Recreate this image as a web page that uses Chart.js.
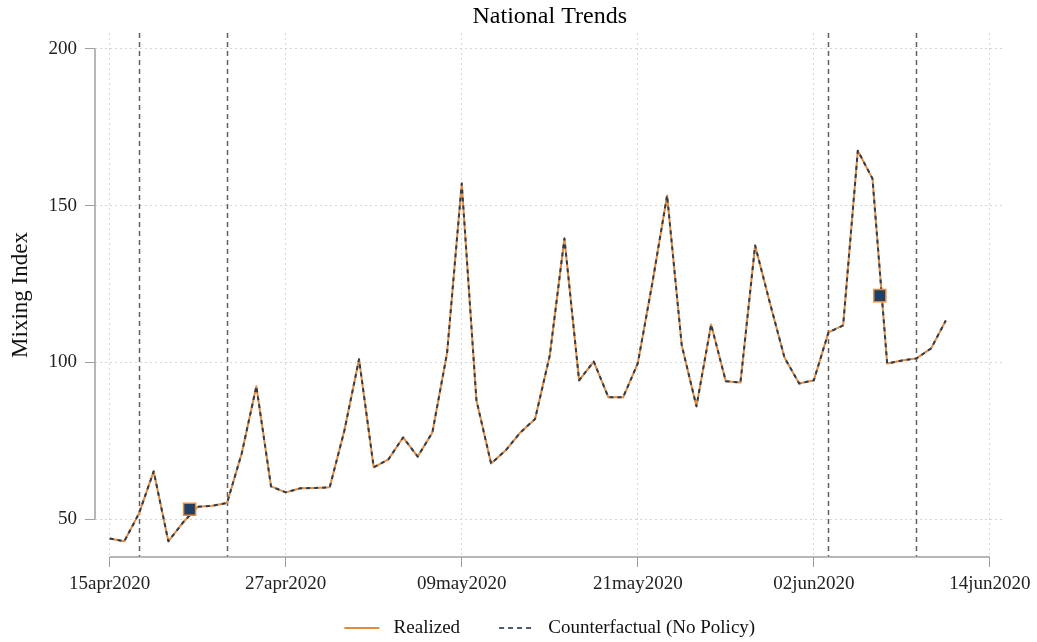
<!DOCTYPE html>
<html lang="en">
<head>
<meta charset="utf-8"/>
<title>National Trends</title>
<script src="https://cdn.jsdelivr.net/npm/chart.js"></script>
<style>
body { margin: 0; background: #fff; }
#wrap { width: 1037px; height: 642px; }
</style>
</head>
<body>
<div id="wrap"><canvas id="trend" width="1037" height="642"></canvas></div>
<script>
// days since 15apr2020
const days = [0, 1, 2, 3, 4, 5, 6, 7, 8, 9, 10, 11, 12, 13, 14, 15, 16, 17, 18, 19,
  20, 21, 22, 23, 24, 25, 26, 27, 28, 29, 30, 31, 32, 33, 34, 35, 36, 37, 38, 39,
  40, 41, 42, 43, 44, 45, 46, 47, 48, 49, 50, 51, 52, 53, 54, 55, 56, 57];
const realized = [43.9, 43.0, 51.9, 65.3, 43.0, 49.0, 54.0, 54.3, 55.2, 71.0,
  92.4, 60.5, 58.6, 59.9, 60.0, 60.2, 78.3, 101.0, 66.6, 69.1,
  76.1, 70.0, 77.7, 103.0, 157.0, 88.0, 67.8, 72.0, 77.7, 82.0,
  102.2, 139.5, 94.3, 100.3, 88.9, 88.9, 99.7, 125.5, 153.2, 105.4,
  86.0, 112.1, 94.0, 93.6, 137.3, 119.1, 101.6, 93.3, 94.3, 109.6,
  111.8, 167.5, 158.6, 99.7, 100.6, 101.3, 104.5, 113.4];
const counterfactual = [43.9, 43.0, 51.9, 65.3, 43.0, 49.0, 54.0, 54.3, 55.2, 71.0,
  92.4, 60.5, 58.6, 59.9, 60.0, 60.2, 78.3, 101.0, 66.6, 69.1,
  76.1, 70.0, 77.7, 103.0, 157.0, 88.0, 67.8, 72.0, 77.7, 82.0,
  102.2, 139.5, 94.3, 100.3, 88.9, 88.9, 99.7, 125.5, 153.2, 105.4,
  86.0, 112.1, 94.0, 93.6, 137.3, 119.1, 101.6, 93.3, 94.3, 109.6,
  111.8, 167.5, 158.6, 99.7, 100.6, 101.3, 104.5, 113.4];
const markerDays = [5.45, 52.5];
const markerValues = [53.2, 121.3];
const policyDays = [2, 8, 49, 55];
const tickDays = [0, 12, 24, 36, 48, 60];
const tickLabels = ['15apr2020', '27apr2020', '09may2020', '21may2020', '02jun2020', '14jun2020'];
const yTicks = [50, 100, 150, 200];

const serif = "'Liberation Serif', 'Times New Roman', serif";
const orange = '#e38b3f';
const navy = '#2b3d52';

const overlay = {
  id: 'overlay',
  beforeDatasetsDraw(chart) {
    const { ctx, chartArea: a, scales: { x, y } } = chart;
    ctx.save();
    // policy dates
    ctx.strokeStyle = '#5f5f5f';
    ctx.lineWidth = 1.5;
    ctx.setLineDash([5, 4]);
    policyDays.forEach(d => {
      const px = Math.round(x.getPixelForValue(d)) + 0.5;
      ctx.beginPath();
      ctx.moveTo(px, a.top);
      ctx.lineTo(px, a.bottom);
      ctx.stroke();
    });
    // axis lines only over the tick range
    ctx.setLineDash([]);
    ctx.strokeStyle = '#a0a0a0';
    ctx.lineWidth = 1.5;
    ctx.beginPath();
    ctx.moveTo(a.left, y.getPixelForValue(yTicks[yTicks.length - 1]));
    ctx.lineTo(a.left, y.getPixelForValue(yTicks[0]));
    ctx.moveTo(x.getPixelForValue(tickDays[0]), a.bottom);
    ctx.lineTo(x.getPixelForValue(tickDays[tickDays.length - 1]), a.bottom);
    ctx.stroke();
    ctx.restore();
  },
  afterDraw(chart) {
    const { ctx, chartArea: a } = chart;
    ctx.save();
    ctx.translate(21, (a.top + a.bottom) / 2);
    ctx.rotate(-Math.PI / 2);
    ctx.font = '23px ' + serif;
    ctx.fillStyle = '#111';
    ctx.textAlign = 'center';
    ctx.textBaseline = 'middle';
    ctx.fillText('Mixing Index', 0, 0);
    ctx.restore();
  }
};

new Chart(document.getElementById('trend'), {
  type: 'line',
  data: {
    datasets: [
      {
        label: 'Realized',
        data: days.map((d, i) => ({ x: d, y: realized[i] })),
        borderColor: orange,
        borderWidth: 2,
        borderJoinStyle: 'round',
        pointRadius: 0,
        order: 3
      },
      {
        label: 'Counterfactual (No Policy)',
        data: days.map((d, i) => ({ x: d, y: counterfactual[i] })),
        borderColor: navy,
        borderWidth: 2,
        borderDash: [4, 4],
        borderJoinStyle: 'round',
        pointRadius: 0,
        order: 2
      },
      {
        label: 'markers',
        data: markerDays.map((d, i) => ({ x: d, y: markerValues[i] })),
        showLine: false,
        pointStyle: 'rect',
        pointRadius: 8.5,
        borderWidth: 1.5,
        borderColor: orange,
        backgroundColor: '#1f3f63',
        order: 1
      }
    ]
  },
  options: {
    responsive: false,
    animation: false,
    events: [],
    layout: { padding: { left: 0, right: 32, top: 0, bottom: -5.5 } },
    plugins: {
      title: {
        display: true,
        fullSize: false,
        text: 'National Trends',
        color: '#000',
        font: { family: serif, size: 24, weight: 'normal', lineHeight: 1.2 },
        padding: { top: 2.6, bottom: 1.6 }
      },
      legend: {
        position: 'bottom',
        fullSize: false,
        labels: {
          // custom items so the legend keys show the real line styles
          generateLabels: chart => [
            { text: ' Realized    ', datasetIndex: 0, strokeStyle: orange, fillStyle: orange,
              lineWidth: 2, lineDash: [], pointStyle: 'line', hidden: false, fontColor: '#111' },
            { text: ' Counterfactual (No Policy)', datasetIndex: 1, strokeStyle: '#4c5c6e', fillStyle: '#4c5c6e',
              lineWidth: 2, lineDash: [5, 4], pointStyle: 'line', hidden: false, fontColor: '#111' }
          ],
          usePointStyle: true,
          pointStyle: 'line',
          pointStyleWidth: 35,
          padding: 20,
          color: '#111',
          font: { family: serif, size: 19 }
        }
      },
      tooltip: { enabled: false }
    },
    scales: {
      x: {
        type: 'linear',
        min: -1,
        max: 61,
        afterBuildTicks: s => { s.ticks = tickDays.map(v => ({ value: v })); },
        afterFit: s => { s.height = 41.5; },
        ticks: {
          callback: v => tickLabels[tickDays.indexOf(v)],
          maxRotation: 0,
          autoSkip: false,
          padding: 6,
          color: '#222',
          font: { family: serif, size: 19 }
        },
        grid: { color: '#d6d6d6', tickColor: '#a0a0a0', tickLength: 10, lineWidth: 1 },
        border: { display: false, dash: [2, 3] }
      },
      y: {
        min: 38,
        max: 205,
        afterBuildTicks: s => { s.ticks = yTicks.map(v => ({ value: v })); },
        afterFit: s => { s.width = 95; },
        ticks: {
          padding: 8,
          color: '#222',
          font: { family: serif, size: 19 }
        },
        grid: { color: '#d6d6d6', tickColor: '#a0a0a0', tickLength: 10, lineWidth: 1 },
        border: { display: false, dash: [2, 3] }
      }
    }
  },
  plugins: [overlay]
});
</script>
</body>
</html>
